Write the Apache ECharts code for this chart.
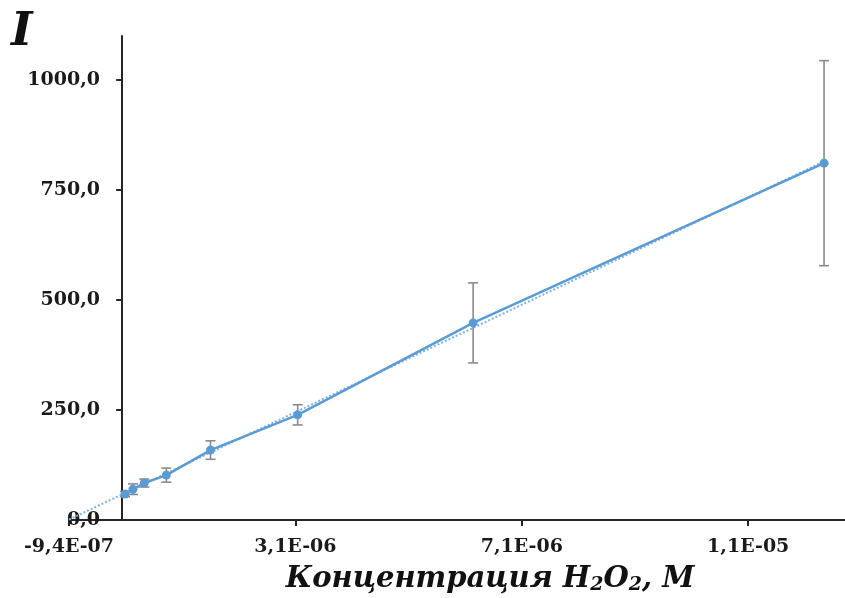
<!DOCTYPE html>
<html>
<head>
<meta charset="utf-8">
<script src="https://cdn.jsdelivr.net/npm/echarts@6/dist/echarts.min.js"></script>
<style>
  html, body { margin: 0; padding: 0; background: #fff; }
  #chart { width: 845px; height: 598px; }
</style>
</head>
<body>
<div id="chart"></div>
<script>
// data
const concentration = [0.05e-6, 0.19e-6, 0.39e-6, 0.78e-6, 1.56e-6, 3.1e-6, 6.2e-6, 12.4e-6];
const intensity = [59, 70, 84, 102, 159, 239, 448, 811];
const errorSize = [6, 12, 9, 16, 21, 23, 91, 233];
const xTickValues = [-9.4e-7, 3.06e-6, 7.06e-6, 1.106e-5];
const yTickValues = [0, 250, 500, 750, 1000];

const blue = "#5b9bd5";
const font = "DejaVu Serif";

// linear trendline (least squares over the points)
const n = concentration.length;
const mx = concentration.reduce((a, b) => a + b, 0) / n;
const my = intensity.reduce((a, b) => a + b, 0) / n;
let sxy = 0, sxx = 0;
for (let i = 0; i < n; i++) {
  sxy += (concentration[i] - mx) * (intensity[i] - my);
  sxx += (concentration[i] - mx) * (concentration[i] - mx);
}
const slope = sxy / sxx;
const icept = my - slope * mx;
const trendX = [xTickValues[0], concentration[n - 1]];

const fmtX = (v) => {
  const [m, e] = v.toExponential(1).split("e");
  const ex = parseInt(e, 10);
  return m.replace(".", ",") + "E" + (ex < 0 ? "-" : "+") + String(Math.abs(ex)).padStart(2, "0");
};
const fmtY = (v) => v.toFixed(1).replace(".", ",");

const chart = echarts.init(document.getElementById("chart"));
chart.setOption({
  animation: false,
  grid: { left: 69, right: 0, top: 36, bottom: 78, containLabel: false, outerBoundsMode: "none" },
  xAxis: {
    type: "value",
    min: -9.4e-7,
    max: 1.277e-5,
    splitLine: { show: false },
    axisLine: { lineStyle: { color: "#262626", width: 2 } },
    axisTick: { show: true, length: 6, customValues: xTickValues, lineStyle: { color: "#262626", width: 2 } },
    axisLabel: {
      customValues: xTickValues,
      formatter: fmtX,
      margin: 18,
      color: "#1a1a1a",
      fontFamily: font,
      fontWeight: "bold",
      fontSize: 19,
      hideOverlap: false,
    },
  },
  yAxis: {
    type: "value",
    min: 0,
    max: 1100,
    splitLine: { show: false },
    axisLine: { show: true, onZero: true, lineStyle: { color: "#262626", width: 2 } },
    axisTick: { show: true, length: 6, customValues: yTickValues, lineStyle: { color: "#262626", width: 2 } },
    axisLabel: {
      customValues: yTickValues,
      formatter: fmtY,
      margin: -31,
      color: "#1a1a1a",
      fontFamily: font,
      fontWeight: "bold",
      fontSize: 19,
    },
  },
  graphic: [
    {
      type: "text",
      left: 11,
      top: 10,
      style: { text: "I", font: "italic bold 46px '" + font + "'", fill: "#111" },
    },
    {
      type: "text",
      x: 490,
      y: 579,
      style: {
        text: "{t|Концентрация H}{s|2}{t|O}{s|2}{t|, M}",
        align: "center",
        verticalAlign: "middle",
        fill: "#111",
        rich: {
          t: { fontFamily: font, fontStyle: "italic", fontWeight: "bold", fontSize: 29, lineHeight: 32, fill: "#111" },
          s: { fontFamily: font, fontStyle: "italic", fontWeight: "bold", fontSize: 19, lineHeight: 12, verticalAlign: "bottom", fill: "#111" },
        },
      },
    },
  ],
  series: [
    {
      type: "custom",
      name: "err",
      z: 1,
      silent: true,
      renderItem: (params, api) => {
        const x = api.value(0);
        const lo = api.coord([x, api.value(1)]);
        const hi = api.coord([x, api.value(2)]);
        const cap = 5;
        const st = { stroke: "#8a8a8a", lineWidth: 1.6 };
        return {
          type: "group",
          children: [
            { type: "line", shape: { x1: lo[0], y1: lo[1], x2: hi[0], y2: hi[1] }, style: st },
            { type: "line", shape: { x1: lo[0] - cap, y1: lo[1], x2: lo[0] + cap, y2: lo[1] }, style: st },
            { type: "line", shape: { x1: hi[0] - cap, y1: hi[1], x2: hi[0] + cap, y2: hi[1] }, style: st },
          ],
        };
      },
      data: concentration.map((c, i) => [c, intensity[i] - errorSize[i], intensity[i] + errorSize[i]]),
    },
    {
      type: "line",
      name: "trend",
      z: 2,
      symbol: "none",
      lineStyle: { color: "#7fb3e3", width: 2, type: [2, 2] },
      data: trendX.map((x) => [x, icept + slope * x]),
    },
    {
      type: "line",
      name: "I",
      z: 3,
      symbol: "circle",
      symbolSize: 9,
      itemStyle: { color: blue },
      lineStyle: { color: blue, width: 2.5 },
      data: concentration.map((c, i) => [c, intensity[i]]),
    },
  ],
});
</script>
</body>
</html>
